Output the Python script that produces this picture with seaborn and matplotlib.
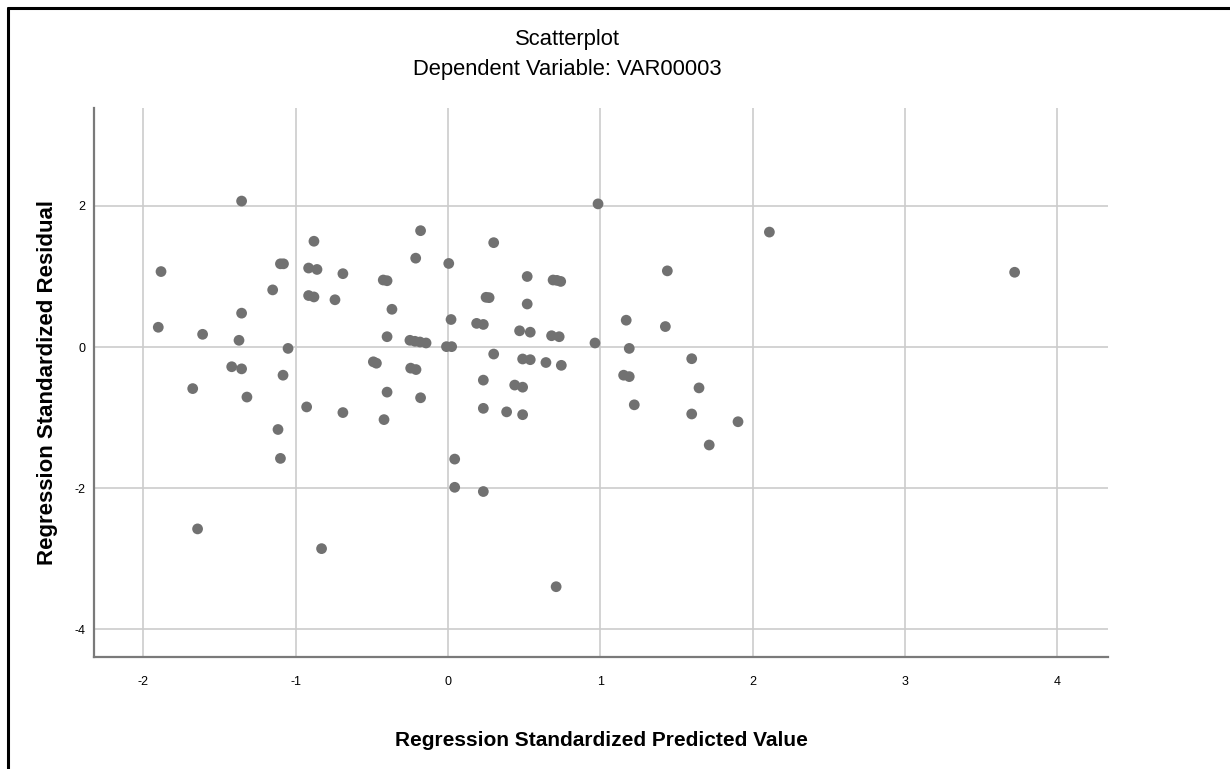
import numpy as np
import pandas as pd
import matplotlib
matplotlib.use("Agg")
import matplotlib.pyplot as plt
from matplotlib.lines import Line2D
import seaborn as sns

# valores (SPSS)
pred_std = [
    -1.355, -1.884, -1.902, -1.611, -1.355, -1.372, -1.151, -1.10, -1.08, -1.05,
    -1.42, -1.355, -1.083, -1.676, -1.32, -1.116, -0.88, -0.915, -0.86, -0.69,
    -0.425, -0.40, -0.18, -0.212, 0.005, -0.915, -0.88, -0.742, -0.368, -0.40,
    -0.25, -0.217, -0.184, -0.144, 0.02, -0.01, 0.024, -0.49, -0.47, -0.245,
    -0.21, -0.40, -0.18, -0.928, -0.69, -0.42, 0.985, 2.11, 0.30, 0.52,
    0.69, 0.715, 0.74, 1.44, 0.25, 0.27, 0.52, 0.188, 0.232, 0.47,
    0.54, 0.68, 0.73, 0.965, 1.17, 1.427, 1.19, 0.30, 0.49, 0.54,
    0.643, 0.744, 1.60, 1.153, 1.19, 0.232, 0.438, 0.49, 1.648, 0.232,
    0.385, 0.49, 1.223, 1.60, 1.904, 3.72, 1.715, -1.10, -1.644, -0.83,
    0.044, 0.044, 0.232, 0.71,
]
resid_std = [
    2.07, 1.07, 0.28, 0.18, 0.48, 0.095, 0.81, 1.18, 1.18, -0.02,
    -0.28, -0.31, -0.40, -0.59, -0.71, -1.17, 1.50, 1.12, 1.10, 1.04,
    0.95, 0.94, 1.65, 1.26, 1.185, 0.73, 0.71, 0.67, 0.535, 0.146,
    0.095, 0.081, 0.071, 0.057, 0.39, 0.005, 0.005, -0.21, -0.23, -0.30,
    -0.32, -0.64, -0.72, -0.85, -0.93, -1.03, 2.03, 1.63, 1.48, 1.00,
    0.95, 0.945, 0.93, 1.08, 0.705, 0.70, 0.61, 0.335, 0.32, 0.23,
    0.21, 0.16, 0.146, 0.057, 0.38, 0.29, -0.02, -0.10, -0.17, -0.18,
    -0.22, -0.26, -0.166, -0.40, -0.42, -0.47, -0.54, -0.57, -0.58, -0.87,
    -0.92, -0.96, -0.82, -0.95, -1.06, 1.06, -1.39, -1.58, -2.58, -2.86,
    -1.59, -1.99, -2.05, -3.40,
]
x_ticks = [-2, -1, 0, 1, 2, 3, 4]
y_ticks = [-4, -2, 0, 2]

df = pd.DataFrame({'pred': pred_std, 'resid': resid_std})

sns.set_style("white")
plt.rcParams['font.family'] = ['Liberation Sans', 'DejaVu Sans']
plt.rcParams['axes.unicode_minus'] = False
plt.rcParams['text.color'] = 'black'
plt.rcParams['axes.labelcolor'] = 'black'

fig = plt.figure(figsize=(12.3, 7.69), dpi=100)
ax = fig.add_axes([94/1230, 1 - 657/769, (1108-94)/1230, (657-108)/769])

ax.set_xticks(x_ticks)
ax.set_yticks(y_ticks)
ax.grid(True, color='#cccccc', linewidth=1.2)
ax.set_axisbelow(True)

sns.scatterplot(data=df, x='pred', y='resid', ax=ax, s=60, color='#717171',
                edgecolor='none', linewidth=0, zorder=3)

ax.set_xlim(-2.324, 4.333)
ax.set_ylim(-4.397, 3.39)

for lado in ['top', 'right']:
    ax.spines[lado].set_visible(False)
for lado in ['left', 'bottom']:
    ax.spines[lado].set_color('#7a7a7a')
    ax.spines[lado].set_linewidth(1.6)

ax.tick_params(axis='both', length=0, labelsize=9, colors='black')
ax.tick_params(axis='x', pad=14)
ax.tick_params(axis='y', pad=6)

ax.set_xlabel('Regression Standardized Predicted Value', fontsize=15,
              fontweight='bold', labelpad=31)
ax.set_ylabel('Regression Standardized Residual', fontsize=16,
              fontweight='bold', labelpad=12)

fig.text(567/1230, 1 - 40/769, 'Scatterplot', ha='center', va='center', fontsize=15.8)
fig.text(567/1230, 1 - 69/769, 'Dependent Variable: VAR00003', ha='center',
         va='center', fontsize=15.8)

# moldura preta da janela do SPSS (so topo e esquerda aparecem)
fig.add_artist(Line2D([8/1230, 1], [1 - 8/769, 1 - 8/769], color='black',
                      linewidth=2.2, transform=fig.transFigure))
fig.add_artist(Line2D([8/1230, 8/1230], [0, 1 - 8/769], color='black',
                      linewidth=2.2, transform=fig.transFigure))

plt.savefig('out.png', dpi=100)
